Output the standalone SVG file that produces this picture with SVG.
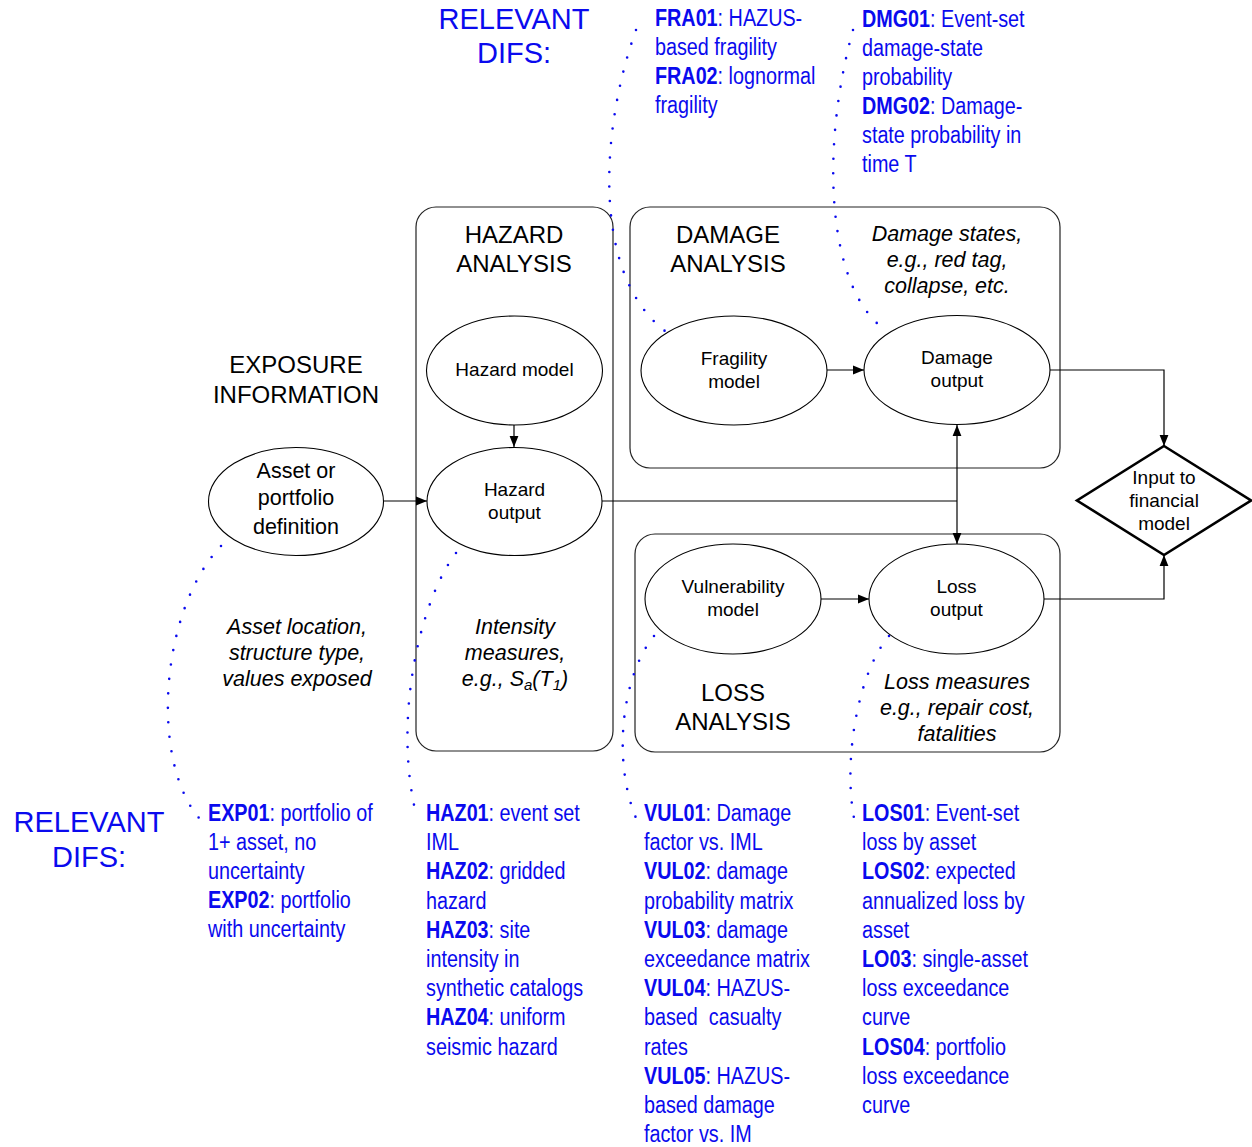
<svg xmlns="http://www.w3.org/2000/svg" width="1252" height="1147" viewBox="0 0 1252 1147">
<style>
.box{fill:none;stroke:#222;stroke-width:1.2}
.ell{fill:#fff;stroke:#000;stroke-width:1.1}
.t{font-family:"Liberation Sans",Arial,sans-serif;fill:#000;text-anchor:middle}
.h{font-size:24px}
.n{font-size:19px}
.i{font-size:21.5px;font-style:italic}
.blue{font-family:"Liberation Sans",Arial,sans-serif;fill:#0a0aee}
.rel{font-size:29px;text-anchor:middle}
.dif{font-size:23px}
.b{font-weight:bold}
.con{fill:none;stroke:#000;stroke-width:1.2}
.dot{fill:none;stroke:#0a0aee;stroke-width:2.6;stroke-linecap:round;stroke-dasharray:0 14.5}
</style>
<defs>
<marker id="arr" viewBox="0 0 10 10" refX="10" refY="5" markerWidth="11" markerHeight="11" markerUnits="userSpaceOnUse" orient="auto-start-reverse"><path d="M0,1 L10,5 L0,9 z" fill="#000"/></marker>
</defs>
<rect width="1252" height="1147" fill="#fff"/>

<g id="containers">
<rect id="hazard-analysis" class="box" x="416" y="207" width="197" height="544" rx="20"/>
<rect id="damage-analysis" class="box" x="630" y="207" width="430" height="261" rx="20"/>
<rect id="loss-analysis" class="box" x="635" y="534" width="425" height="218" rx="20"/>
</g>

<g id="connectors">
<path class="con" d="M514,425 L514,447" marker-end="url(#arr)"/>
<path class="con" d="M383,501 L427,501" marker-end="url(#arr)"/>
<path class="con" d="M827,370 L864,370" marker-end="url(#arr)"/>
<path class="con" d="M821,599 L869,599" marker-end="url(#arr)"/>
<path class="con" d="M602,501 L957,501"/>
<path class="con" d="M957,425 L957,544" marker-start="url(#arr)" marker-end="url(#arr)"/>
<path class="con" d="M1050,370 L1164,370 L1164,446" marker-end="url(#arr)"/>
<path class="con" d="M1044,599 L1164,599 L1164,555" marker-end="url(#arr)"/>
</g>

<g id="dotted-links">
<path class="dot" d="M221,546 C160,610 150,760 199,818"/>
<path class="dot" d="M456,553 C420,600 392,720 417,818"/>
<path class="dot" d="M654,636 C622,675 612,760 636,818"/>
<path class="dot" d="M889,636 C858,672 843,760 854,818"/>
<path class="dot" d="M636,30 C600,130 592,275 665,331"/>
<path class="dot" d="M853,30 C820,150 828,280 879,325"/>
</g>

<g id="labels">
<text class="t h" x="514" y="243">HAZARD</text>
<text class="t h" x="514" y="272">ANALYSIS</text>
<text class="t h" x="728" y="243">DAMAGE</text>
<text class="t h" x="728" y="272">ANALYSIS</text>
<text class="t h" x="296" y="373">EXPOSURE</text>
<text class="t h" x="296" y="403">INFORMATION</text>
<text class="t h" x="733" y="701">LOSS</text>
<text class="t h" x="733" y="730">ANALYSIS</text>

<text class="t i" x="947" y="241">Damage states,</text>
<text class="t i" x="947" y="267">e.g., red tag,</text>
<text class="t i" x="947" y="293">collapse, etc.</text>
<text class="t i" x="297" y="634">Asset location,</text>
<text class="t i" x="297" y="660">structure type,</text>
<text class="t i" x="297" y="686">values exposed</text>
<text class="t i" x="515" y="634">Intensity</text>
<text class="t i" x="515" y="660">measures,</text>
<text class="t i" x="515" y="686">e.g., S<tspan font-size="15" dy="4">a</tspan><tspan dy="-4">(T</tspan><tspan font-size="15" dy="4">1</tspan><tspan dy="-4">)</tspan></text>
<text class="t i" x="957" y="689">Loss measures</text>
<text class="t i" x="957" y="715">e.g., repair cost,</text>
<text class="t i" x="957" y="741">fatalities</text>
</g>

<g id="node-asset">
<ellipse class="ell" cx="296" cy="501.5" rx="87.5" ry="54"/>
<text class="t" font-size="21.5" x="296" y="478">Asset or</text>
<text class="t" font-size="21.5" x="296" y="505">portfolio</text>
<text class="t" font-size="21.5" x="296" y="534">definition</text>
</g>
<g id="node-hazard-model">
<ellipse class="ell" cx="514.5" cy="370.5" rx="88" ry="54.5"/>
<text class="t n" x="514.5" y="376">Hazard model</text>
</g>
<g id="node-hazard-output">
<ellipse class="ell" cx="514.5" cy="501.5" rx="87.5" ry="54"/>
<text class="t n" x="514.5" y="496">Hazard</text>
<text class="t n" x="514.5" y="519">output</text>
</g>
<g id="node-fragility">
<ellipse class="ell" cx="734" cy="370.5" rx="93" ry="54.5"/>
<text class="t n" x="734" y="365">Fragility</text>
<text class="t n" x="734" y="388">model</text>
</g>
<g id="node-damage-output">
<ellipse class="ell" cx="957" cy="370" rx="93" ry="54.5"/>
<text class="t n" x="957" y="364">Damage</text>
<text class="t n" x="957" y="387">output</text>
</g>
<g id="node-vulnerability">
<ellipse class="ell" cx="733" cy="599" rx="88" ry="55"/>
<text class="t n" x="733" y="593">Vulnerability</text>
<text class="t n" x="733" y="616">model</text>
</g>
<g id="node-loss-output">
<ellipse class="ell" cx="956.5" cy="599" rx="87.5" ry="55"/>
<text class="t n" x="956.5" y="593">Loss</text>
<text class="t n" x="956.5" y="616">output</text>
</g>
<g id="node-financial">
<polygon points="1164,446 1251,500.5 1164,555 1077,500.5" fill="#fff" stroke="#000" stroke-width="2.6" stroke-linejoin="miter"/>
<text class="t n" x="1164" y="484">Input to</text>
<text class="t n" x="1164" y="507">financial</text>
<text class="t n" x="1164" y="530">model</text>
</g>

<g id="relevant-difs">
<text class="blue rel" x="514" y="29">RELEVANT</text>
<text class="blue rel" x="514" y="63">DIFS:</text>
<text class="blue rel" x="89" y="832">RELEVANT</text>
<text class="blue rel" x="89" y="867">DIFS:</text>
</g>

<g id="difs-fra" transform="translate(655,0) scale(0.86,1)">
<text class="blue dif" x="0" y="26"><tspan class="b">FRA01</tspan>: HAZUS-</text>
<text class="blue dif" x="0" y="55">based fragility</text>
<text class="blue dif" x="0" y="84"><tspan class="b">FRA02</tspan>: lognormal</text>
<text class="blue dif" x="0" y="113">fragility</text>
</g>
<g id="difs-dmg" transform="translate(862,0) scale(0.86,1)">
<text class="blue dif" x="0" y="27"><tspan class="b">DMG01</tspan>: Event-set</text>
<text class="blue dif" x="0" y="56">damage-state</text>
<text class="blue dif" x="0" y="85">probability</text>
<text class="blue dif" x="0" y="114"><tspan class="b">DMG02</tspan>: Damage-</text>
<text class="blue dif" x="0" y="143">state probability in</text>
<text class="blue dif" x="0" y="172">time T</text>
</g>
<g id="difs-exp" transform="translate(208,0) scale(0.86,1)">
<text class="blue dif" x="0" y="821"><tspan class="b">EXP01</tspan>: portfolio of</text>
<text class="blue dif" x="0" y="850">1+ asset, no</text>
<text class="blue dif" x="0" y="879">uncertainty</text>
<text class="blue dif" x="0" y="908"><tspan class="b">EXP02</tspan>: portfolio</text>
<text class="blue dif" x="0" y="937">with uncertainty</text>
</g>
<g id="difs-haz" transform="translate(426,0) scale(0.86,1)">
<text class="blue dif" x="0" y="821"><tspan class="b">HAZ01</tspan>: event set</text>
<text class="blue dif" x="0" y="850.2">IML</text>
<text class="blue dif" x="0" y="879.4"><tspan class="b">HAZ02</tspan>: gridded</text>
<text class="blue dif" x="0" y="908.6">hazard</text>
<text class="blue dif" x="0" y="937.8"><tspan class="b">HAZ03</tspan>: site</text>
<text class="blue dif" x="0" y="967">intensity in</text>
<text class="blue dif" x="0" y="996.2">synthetic catalogs</text>
<text class="blue dif" x="0" y="1025.4"><tspan class="b">HAZ04</tspan>: uniform</text>
<text class="blue dif" x="0" y="1054.6">seismic hazard</text>
</g>
<g id="difs-vul" transform="translate(644,0) scale(0.86,1)">
<text class="blue dif" x="0" y="821"><tspan class="b">VUL01</tspan>: Damage</text>
<text class="blue dif" x="0" y="850.2">factor vs. IML</text>
<text class="blue dif" x="0" y="879.4"><tspan class="b">VUL02</tspan>: damage</text>
<text class="blue dif" x="0" y="908.6">probability matrix</text>
<text class="blue dif" x="0" y="937.8"><tspan class="b">VUL03</tspan>: damage</text>
<text class="blue dif" x="0" y="967">exceedance matrix</text>
<text class="blue dif" x="0" y="996.2"><tspan class="b">VUL04</tspan>: HAZUS-</text>
<text class="blue dif" x="0" y="1025.4" xml:space="preserve">based  casualty</text>
<text class="blue dif" x="0" y="1054.6">rates</text>
<text class="blue dif" x="0" y="1083.8"><tspan class="b">VUL05</tspan>: HAZUS-</text>
<text class="blue dif" x="0" y="1113">based damage</text>
<text class="blue dif" x="0" y="1142.2">factor vs. IM</text>
</g>
<g id="difs-los" transform="translate(862,0) scale(0.86,1)">
<text class="blue dif" x="0" y="821"><tspan class="b">LOS01</tspan>: Event-set</text>
<text class="blue dif" x="0" y="850.2">loss by asset</text>
<text class="blue dif" x="0" y="879.4"><tspan class="b">LOS02</tspan>: expected</text>
<text class="blue dif" x="0" y="908.6">annualized loss by</text>
<text class="blue dif" x="0" y="937.8">asset</text>
<text class="blue dif" x="0" y="967"><tspan class="b">LO03</tspan>: single-asset</text>
<text class="blue dif" x="0" y="996.2">loss exceedance</text>
<text class="blue dif" x="0" y="1025.4">curve</text>
<text class="blue dif" x="0" y="1054.6"><tspan class="b">LOS04</tspan>: portfolio</text>
<text class="blue dif" x="0" y="1083.8">loss exceedance</text>
<text class="blue dif" x="0" y="1113">curve</text>
</g>
</svg>
